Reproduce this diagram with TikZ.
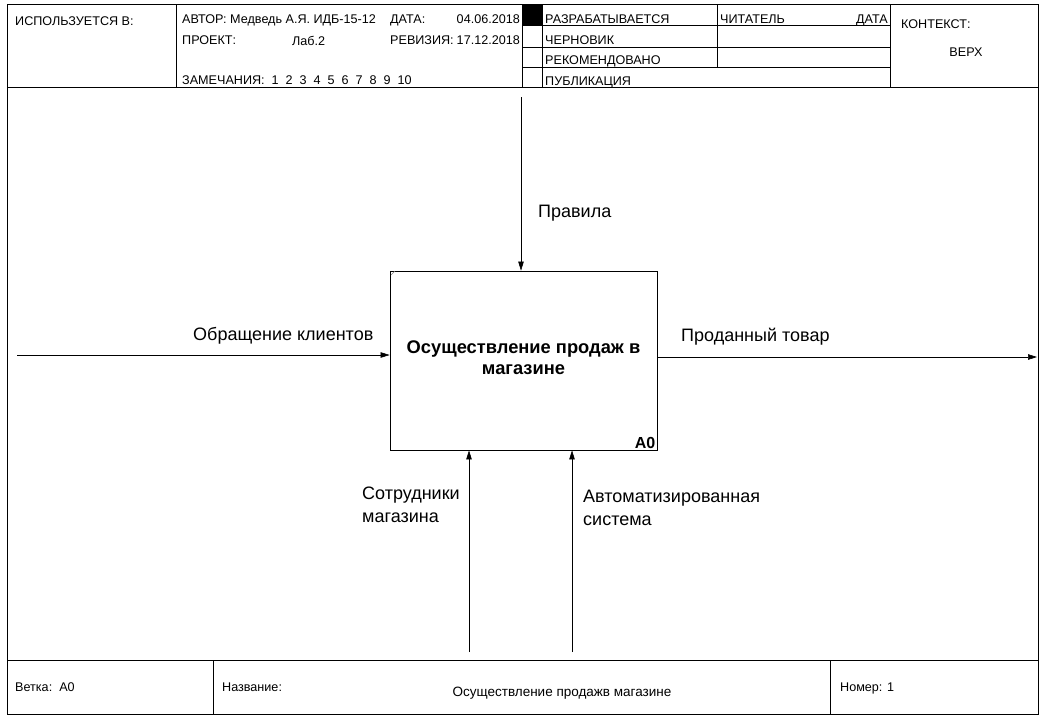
\documentclass[tikz,border=0pt]{standalone}
\usepackage{fontspec}
\setmainfont{Liberation Sans}
\usetikzlibrary{positioning,arrows.meta}

\begin{document}
\begin{tikzpicture}[x=1pt, y=-1pt,
		frm/.style={line width=0.8pt},
		hdr/.style={font=\fontsize{12.6}{14}\selectfont, inner sep=0pt, anchor=base west},
		ftr/.style={font=\fontsize{12.6}{14}\selectfont, inner sep=0pt, anchor=base west},
		lbl/.style={font=\fontsize{18}{23}\selectfont, inner sep=0pt, anchor=base west, align=left},
		flow/.style={-{Triangle[length=9pt,width=5.5pt]}, line width=0.6pt},
		func/.style={draw, line width=0.8pt, minimum width=267pt, minimum height=179pt}]
	\useasboundingbox (0,0) rectangle (1046,721);
	% frame, header and footer
	\draw[frm] (7,4) rectangle (1038,714);
	\draw[frm] (7,87) -- (1038,87);
	\draw[frm] (7,660) -- (1038,660);
	\draw[frm] (176,4) -- (176,87);
	\draw[frm] (522,4) -- (522,87);
	\draw[frm] (542,4) -- (542,87);
	\draw[frm] (717,4) -- (717,67);
	\draw[frm] (890,4) -- (890,87);
	\foreach \y in {25,47,67}
		\draw[frm] (522,\y) -- (890,\y);
	\fill (522,4) rectangle (542,25);
	\draw[frm] (213,660) -- (213,714);
	\draw[frm] (830,660) -- (830,714);
	\node[hdr] (used) at (15,25) {ИСПОЛЬЗУЕТСЯ В:};
	\node[hdr] (author) at (182,23) {АВТОР: Медведь А.Я. ИДБ-15-12};
	\node[hdr] (project) at (182,44) {ПРОЕКТ:};
	\node[hdr] (projname) at (292,45) {Лаб.2};
	\node[hdr] (notes) at (182,84) {ЗАМЕЧАНИЯ:\ \ 1\ \ 2\ \ 3\ \ 4\ \ 5\ \ 6\ \ 7\ \ 8\ \ 9\ \ 10};
	\node[hdr] (date) at (390,23) {ДАТА:};
	\node[hdr, anchor=base east] (dateval) at (520,23) {04.06.2018};
	\node[hdr] (rev) at (390,44) {РЕВИЗИЯ:};
	\node[hdr, anchor=base east] (revval) at (520,44) {17.12.2018};
	\node[hdr] (st1) at (545,23) {РАЗРАБАТЫВАЕТСЯ};
	\node[hdr] (st2) at (545,44) {ЧЕРНОВИК};
	\node[hdr] (st3) at (545,64) {РЕКОМЕНДОВАНО};
	\node[hdr] (st4) at (545,85) {ПУБЛИКАЦИЯ};
	\node[hdr] (reader) at (720,23) {ЧИТАТЕЛЬ};
	\node[hdr, anchor=base east] (rdate) at (888,23) {ДАТА};
	\node[hdr] (ctx) at (901,28) {КОНТЕКСТ:};
	\node[hdr, anchor=base] (top) at (966,56) {ВЕРХ};
	\node[ftr] (branch) at (15,691) {Ветка:\ \ А0};
	\node[ftr] (title) at (222,691) {Название:};
	\node[ftr, anchor=base, font=\fontsize{13.5}{15}\selectfont] (titleval) at (562,696) {Осуществление продажв магазине};
	\node[ftr] (number) at (840,691) {Номер: 1};
	% function block
	\node[func] (A0) at (523.5,360.5) {};
	\node[font=\fontsize{18.3}{21}\selectfont\bfseries, align=center] (A0txt) at ([yshift=3pt]A0.center) {Осуществление продаж в\\магазине};
	\node[font=\fontsize{16}{18}\selectfont\bfseries, anchor=south east, inner sep=2pt] (A0num) at (A0.south east) {A0};
	\draw[gray, line width=0.5pt] (391,275) -- (395,271);
	% arrows
	\coordinate (ctl) at (521,97);
	\coordinate (inp) at (17,355);
	\coordinate (outp) at (1037,357);
	\coordinate (mech1) at (469,652);
	\coordinate (mech2) at (572,652);
	\draw[flow] (ctl) -- (ctl |- A0.north);
	\draw[flow] (inp) -- (inp -| A0.west);
	\draw[flow] (outp -| A0.east) -- (outp);
	\draw[flow] (mech1) -- (mech1 |- A0.south);
	\draw[flow] (mech2) -- (mech2 |- A0.south);
	\node[lbl] (ctlL) at (538,217) {Правила};
	\node[lbl] (inpL) at (193,340) {Обращение клиентов};
	\node[lbl] (outpL) at (681,341) {Проданный товар};
	\node[lbl] (mech1L) at (362,522) {Сотрудники\\магазина};
	\node[lbl] (mech2L) at (583,525) {Автоматизированная\\система};
\end{tikzpicture}
\end{document}
